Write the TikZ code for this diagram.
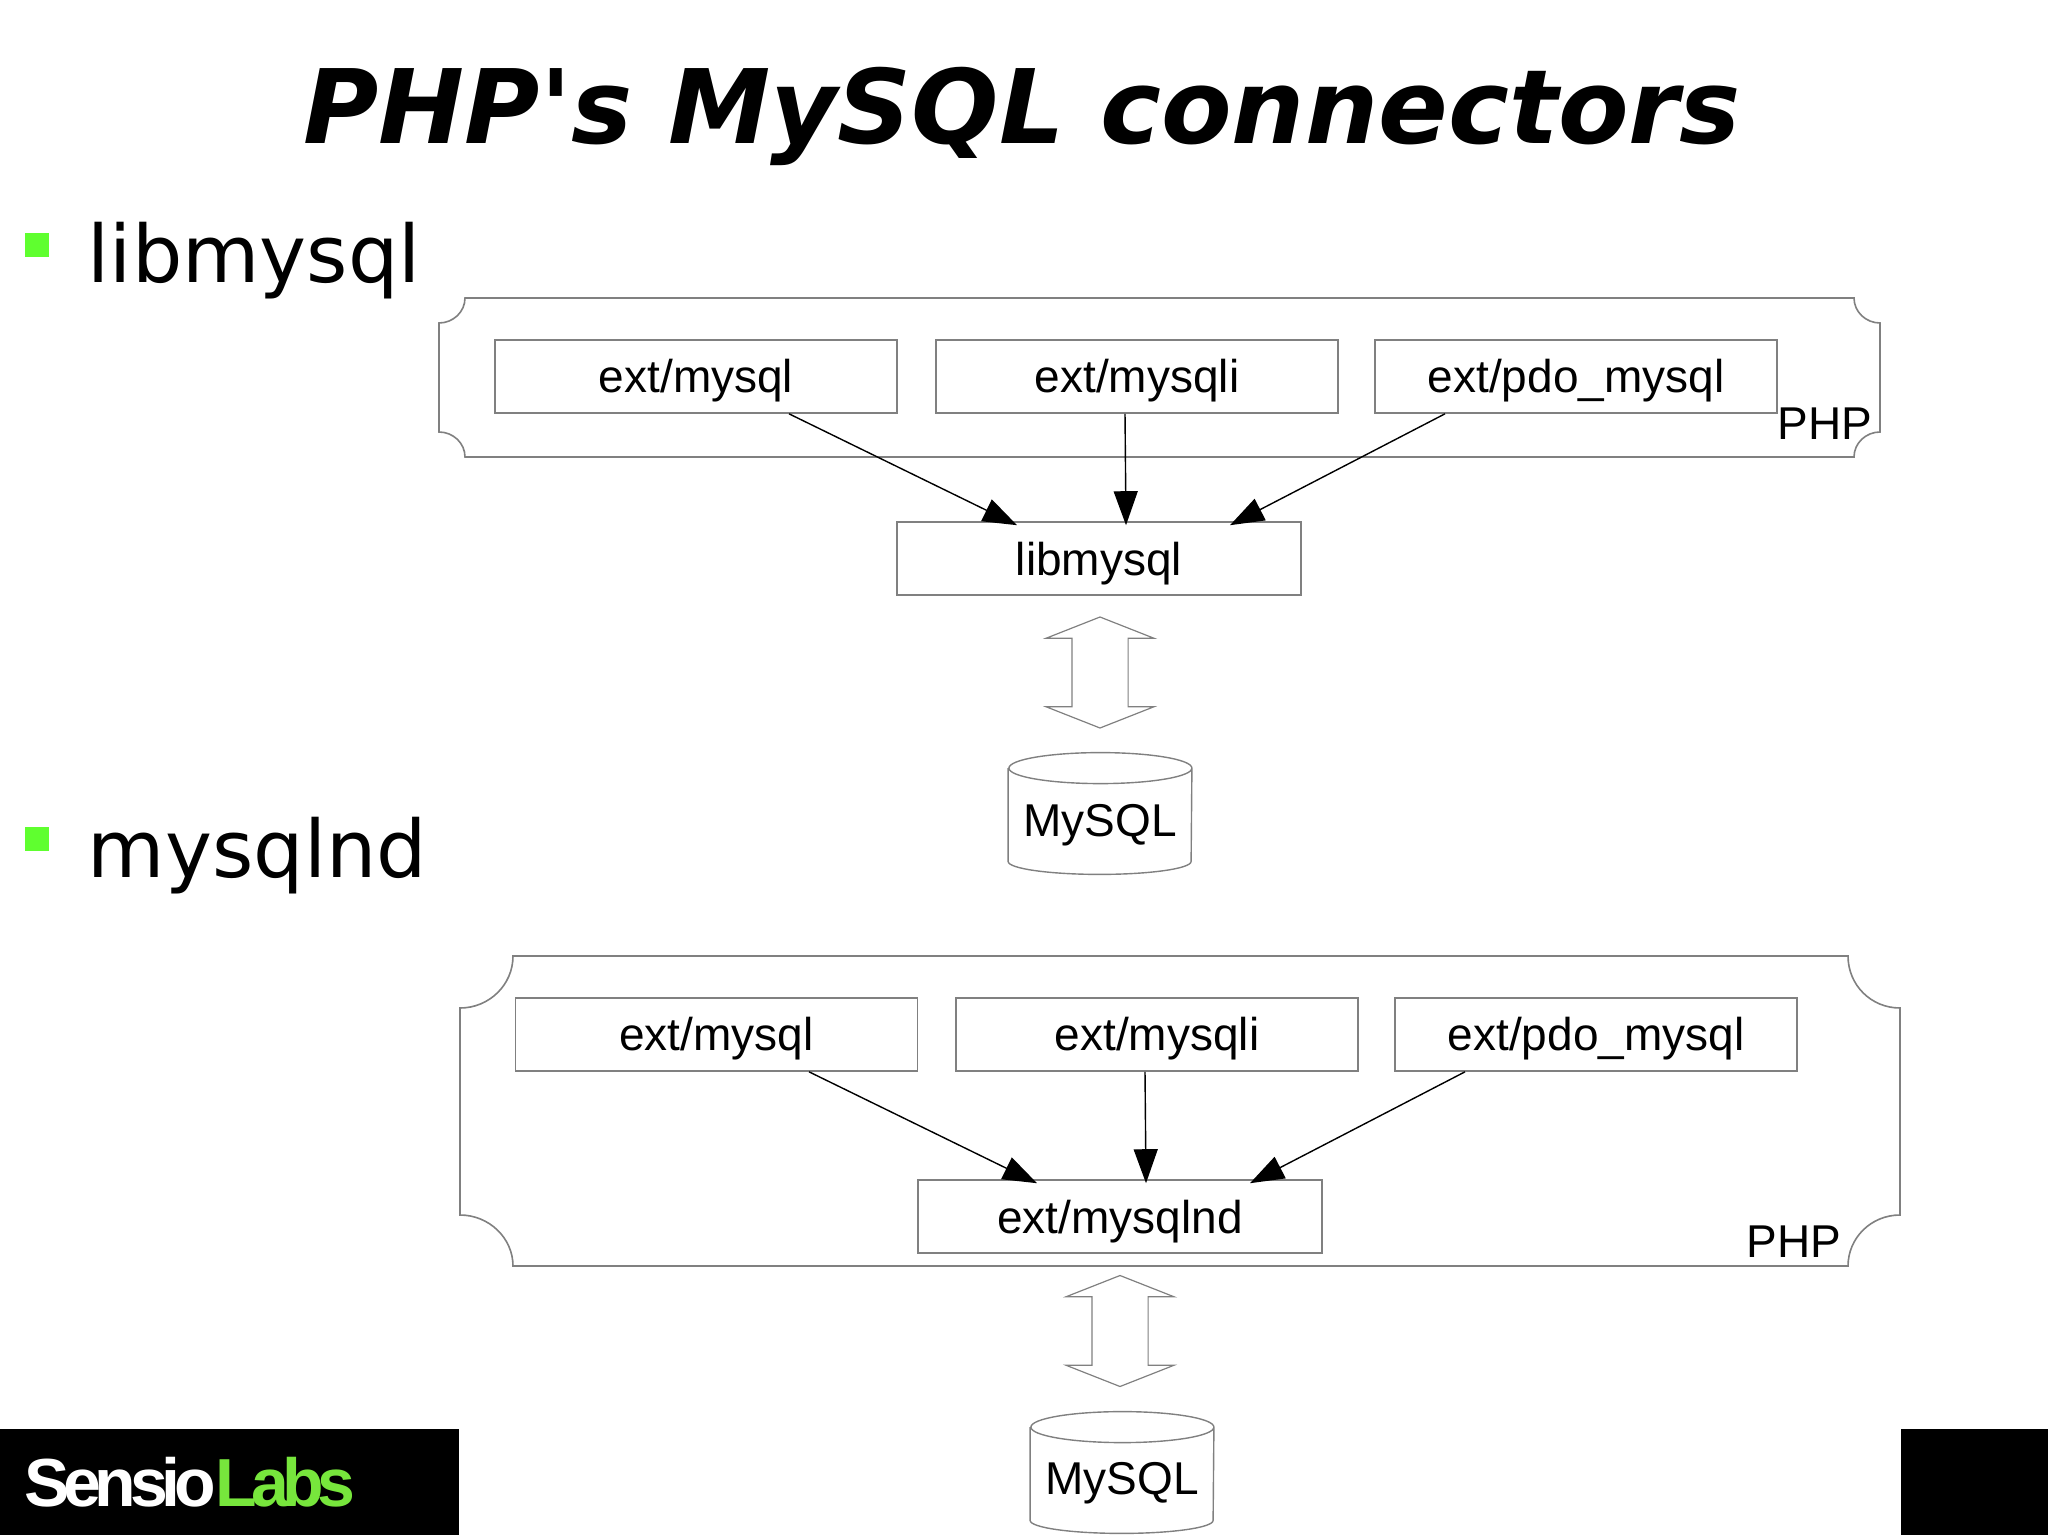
\documentclass[tikz,border=0pt]{standalone}
\usepackage{fontspec}
\setmainfont{Liberation Sans}
\newfontfamily\slidefont{DejaVu Sans}
\usetikzlibrary{arrows.meta,shapes.geometric,shapes.arrows}

\definecolor{linegray}{HTML}{808080}
\definecolor{bulletgreen}{HTML}{5FFF2F}
\definecolor{logogreen}{HTML}{77E63C}

% coordinates are reference pixels, y going down, 1px = 0.5pt
\tikzset{
    diagramtext/.style={font=\fontsize{23}{23}\selectfont, text=black},
    box/.style={diagramtext, draw=linegray, line width=0.8pt, rectangle, inner sep=0pt,
        minimum width=201pt, minimum height=36.5pt, text height=17.8pt, text depth=2pt},
    libbox/.style={box, minimum width=202pt, text height=19pt},
    frame/.style={draw=linegray, line width=0.8pt},
    conn/.style={draw=black, line width=0.7pt, -{Triangle[length=17pt,width=12pt]}},
    link/.style={draw=linegray, line width=0.6pt, double arrow, rotate=90, inner sep=0pt,
        text height=27.5pt, text depth=0pt,
        minimum height=55.5pt, double arrow head extend=13pt, double arrow tip angle=137},
    db/.style={rectangle, inner sep=0pt, minimum width=91.5pt, minimum height=60.5pt},
    dbline/.style={draw=linegray, line width=0.7pt},
    bullet/.style={fill=bulletgreen, rectangle, inner sep=0pt, minimum size=12pt},
    heading/.style={font=\slidefont\fontsize{39.7}{40}\selectfont, inner sep=0pt, anchor=base west},
}

% can outline over a db node
\newcommand{\dbcan}[1]{
    \draw[dbline] ([yshift=-7.75pt]#1.north west) -- ([yshift=6.5pt]#1.south west)
        arc[start angle=180, end angle=360, x radius=45.75pt, y radius=6.5pt]
        -- ([yshift=-7.75pt]#1.north east)
        arc[start angle=0, end angle=180, x radius=45.75pt, y radius=7.75pt]
        arc[start angle=180, end angle=360, x radius=45.75pt, y radius=7.75pt];
}

\begin{document}
\begin{tikzpicture}[x=0.5pt,y=-0.5pt]
    \useasboundingbox (0,0) rectangle (2048,1535);

    \node (title) [font=\slidefont\bfseries\itshape\fontsize{51.4}{52}\selectfont, inner sep=0pt, anchor=base]
        at (1022,144) {PHP's MySQL connectors};

    \node (bullet1) [bullet] at (36.5,245.5) {};
    \node (head1) [heading] at (87.5,283) {libmysql};
    \node (bullet2) [bullet] at (36.5,839) {};
    \node (head2) [heading] at (87.5,877) {mysqlnd};

    % footer
    \fill[black] (0,1429) rectangle (459,1535);
    \fill[black] (1901,1429) rectangle (2048,1535);
    \node (logo) [font=\fontsize{34}{34}\selectfont\bfseries\addfontfeature{LetterSpace=-9.3},
        inner sep=0pt, anchor=base west, text=white] at (24,1506) {Sensio\textcolor{logogreen}{Labs}};

    % libmysql diagram
    \draw[frame] (465,298) -- (1854,298)
        .. controls (1854,312) and (1866,323) .. (1880,323) -- (1880,432)
        .. controls (1866,432) and (1854,443) .. (1854,457) -- (465,457)
        .. controls (465,443) and (453,432) .. (439,432) -- (439,323)
        .. controls (453,323) and (465,312) .. (465,298) -- cycle;
    \node (a1) [box] at (696,376.5) {ext/mysql};
    \node (b1) [box] at (1137,376.5) {ext/mysqli};
    \node (c1) [box] at (1576,376.5) {ext/pdo\_mysql};
    \node (lib1) [libbox] at (1099,558.5) {libmysql};
    \node (php1) [diagramtext, inner sep=0pt] at (1825,424) {PHP};
    \draw[conn] ([xshift=46.5pt]a1.south) -- ([xshift=-41pt,yshift=-2pt]lib1.north);
    \draw[conn] ([xshift=-6pt]b1.south) -- ([xshift=13.5pt,yshift=-2pt]lib1.north);
    \draw[conn] ([xshift=-65.5pt]c1.south) -- ([xshift=65.5pt,yshift=-2pt]lib1.north);
    \node (link1) [link] at (1100,672.5) {};
    \node (db1) [db] at (1100,813.5) {};
    \dbcan{db1}
    \node (dbtext1) [diagramtext, inner sep=0pt] at (1100,825) {MySQL};

    % mysqlnd diagram
    \draw[frame] (513,956) -- (1848,956)
        .. controls (1848,985) and (1871,1008) .. (1900,1008) -- (1900,1215)
        .. controls (1871,1215) and (1848,1238) .. (1848,1266) -- (513,1266)
        .. controls (513,1238) and (489,1215) .. (460,1215) -- (460,1008)
        .. controls (489,1008) and (513,985) .. (513,956) -- cycle;
    \node (a2) [box] at (716.5,1034.5) {ext/mysql};
    \node (b2) [box] at (1157,1034.5) {ext/mysqli};
    \node (c2) [box] at (1596,1034.5) {ext/pdo\_mysql};
    \node (lib2) [libbox] at (1120,1216.5) {ext/mysqlnd};
    \node (php2) [diagramtext, inner sep=0pt] at (1794,1242) {PHP};
    \draw[conn] ([xshift=46.25pt]a2.south) -- ([xshift=-41.5pt,yshift=-2pt]lib2.north);
    \draw[conn] ([xshift=-6pt]b2.south) -- ([xshift=13pt,yshift=-2pt]lib2.north);
    \draw[conn] ([xshift=-65.5pt]c2.south) -- ([xshift=65pt,yshift=-2pt]lib2.north);
    \node (link2) [link] at (1120,1331) {};
    \node (db2) [db] at (1122,1472.5) {};
    \dbcan{db2}
    \node (dbtext2) [diagramtext, inner sep=0pt] at (1122,1483) {MySQL};
\end{tikzpicture}
\end{document}
